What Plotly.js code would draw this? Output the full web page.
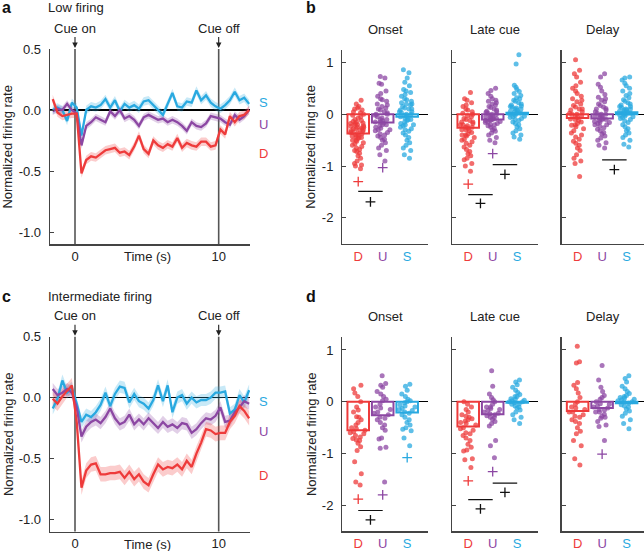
<!DOCTYPE html>
<html><head><meta charset="utf-8">
<script src="https://cdn.plot.ly/plotly-3.0.1.min.js"></script>
<style>html,body{margin:0;padding:0;background:#fff}#chart{width:644px;height:551px}</style>
</head><body><div id="chart"></div>
<script>
// ---------- time courses (panels a, c) ----------
const time = [-1.55,-1.22,-0.88,-0.55,-0.22,0.12,0.45,0.78,1.12,1.45,1.78,2.12,2.45,2.78,3.12,3.45,3.78,4.12,4.45,4.78,5.12,5.45,5.78,6.12,6.45,6.78,7.12,7.45,7.78,8.12,8.45,8.78,9.12,9.45,9.78,10.12,10.45,10.78,11.12,11.45,11.78,12.12];
const lowS = [0.0,0.02,0.0,-0.09,0.06,0.02,-0.21,0.0,0.03,0.02,0.04,0.09,0.02,0.08,-0.01,0.05,0.02,0.04,0.01,0.07,0.08,0.04,0.0,-0.04,0.05,0.14,0.03,0.02,0.07,0.06,0.16,0.08,0.12,0.06,0.03,0.01,0.04,0.08,0.15,0.08,0.1,0.05];
const lowU = [-0.01,0.01,0.0,0.05,0.0,-0.03,-0.29,-0.13,-0.1,-0.06,-0.08,-0.1,-0.01,-0.05,0.0,-0.07,-0.05,-0.08,-0.13,-0.06,-0.04,-0.06,-0.08,-0.07,-0.1,-0.08,-0.1,-0.13,-0.17,-0.1,-0.13,-0.14,-0.11,-0.05,-0.06,-0.07,-0.1,-0.12,-0.04,-0.08,-0.05,0.0];
const lowD = [0.09,-0.02,-0.05,-0.04,-0.03,-0.03,-0.52,-0.41,-0.38,-0.39,-0.36,-0.33,-0.32,-0.31,-0.35,-0.34,-0.37,-0.3,-0.21,-0.32,-0.36,-0.25,-0.29,-0.31,-0.28,-0.3,-0.23,-0.31,-0.27,-0.29,-0.3,-0.26,-0.26,-0.3,-0.29,-0.16,-0.2,-0.05,-0.1,-0.05,-0.04,0.0];
const intS = [-0.09,-0.01,0.14,0.04,0.08,-0.05,-0.2,-0.14,-0.16,-0.12,-0.06,0.04,-0.07,0.03,0.09,0.08,-0.04,0.03,-0.03,-0.05,-0.09,-0.02,0.1,-0.03,0.1,-0.12,0.0,0.02,-0.05,0.0,-0.04,-0.02,-0.02,0.0,0.04,0.04,0.05,-0.13,-0.1,0.02,-0.04,0.06];
const intU = [0.07,0.02,0.04,0.07,0.04,-0.08,-0.32,-0.24,-0.2,-0.18,-0.21,-0.16,-0.09,-0.17,-0.22,-0.2,-0.14,-0.22,-0.18,-0.22,-0.17,-0.21,-0.25,-0.2,-0.24,-0.22,-0.25,-0.21,-0.22,-0.29,-0.26,-0.21,-0.17,-0.18,-0.15,-0.08,-0.2,-0.19,-0.12,-0.08,-0.03,-0.05];
const intD = [-0.01,-0.05,0.01,0.06,0.1,-0.2,-0.74,-0.6,-0.55,-0.54,-0.63,-0.63,-0.62,-0.62,-0.61,-0.66,-0.61,-0.67,-0.63,-0.69,-0.72,-0.63,-0.55,-0.59,-0.57,-0.58,-0.55,-0.59,-0.52,-0.57,-0.46,-0.37,-0.26,-0.27,-0.3,-0.29,-0.29,-0.2,-0.15,-0.07,-0.11,-0.17];
const lowSem = [0.035, 0.03, 0.035];   // S, U, D
const intSem = [0.05, 0.05, 0.06];     // S, U, D
const seriesNames = ['S','U','D'];
const cueTimes = [0, 10];
const cueLabels = ['Cue on', 'Cue off'];
const timeTicks = [0, 10];
const rateTicks = [0.5, 0, -0.5, -1];
const rateTickText = ['0.5', '0.0', '-0.5', '-1.0'];

// ---------- epoch scatter (panels b, d) ----------
const groups = ['D','U','S'];
const periods = ['Onset','Late cue','Delay'];
const epochTicks = [1, 0, -1, -2];
const epochTickText = ['1', '0', '-1', '-2'];

const bOnsetD = [0.27,0.2,0.15,0.12,0.1,0.08,0.05,0.03,0.0,-0.02,-0.05,-0.07,-0.1,-0.12,-0.14,-0.15,-0.17,-0.18,-0.2,-0.2,-0.22,-0.23,-0.25,-0.26,-0.28,-0.3,-0.3,-0.32,-0.33,-0.35,-0.36,-0.38,-0.4,-0.4,-0.42,-0.44,-0.45,-0.47,-0.5,-0.5,-0.52,-0.55,-0.57,-0.6,-0.62,-0.65,-0.68,-0.7,-0.72,-0.75,-0.8,-0.85,-0.9,-0.95,-0.98,-1.0,-1.05,-0.25,-0.18,-0.35,-0.45,-0.28];
const bOnsetU = [0.73,0.7,0.6,0.58,0.45,0.4,0.35,0.3,0.28,0.25,0.2,0.18,0.15,0.12,0.1,0.08,0.05,0.03,0.0,-0.02,-0.05,-0.07,-0.1,-0.12,-0.15,-0.17,-0.2,-0.22,-0.25,-0.27,-0.3,-0.32,-0.35,-0.38,-0.4,-0.42,-0.45,-0.48,-0.5,-0.55,-0.6,-0.65,-0.7,-0.78,-0.9,-0.2,-0.1,-0.3,0.0,-0.15];
const bOnsetS = [0.86,0.8,0.7,0.62,0.55,0.48,0.45,0.42,0.38,0.35,0.3,0.28,0.25,0.22,0.2,0.18,0.15,0.12,0.1,0.08,0.05,0.03,0.0,-0.02,-0.05,-0.07,-0.1,-0.12,-0.15,-0.18,-0.2,-0.22,-0.25,-0.28,-0.3,-0.33,-0.36,-0.4,-0.45,-0.5,-0.55,-0.6,-0.65,-0.7,-0.78,-0.85,0.1,0.0,-0.1,0.2,-0.2,0.05,-0.05];
const bLateD = [0.42,0.3,0.27,0.22,0.18,0.15,0.1,0.08,0.05,0.02,0.0,-0.03,-0.05,-0.08,-0.1,-0.12,-0.15,-0.18,-0.2,-0.22,-0.25,-0.27,-0.3,-0.32,-0.35,-0.38,-0.4,-0.42,-0.45,-0.48,-0.5,-0.53,-0.56,-0.6,-0.63,-0.68,-0.72,-0.76,-0.8,-0.85,-0.88,-0.95,-1.0,-1.1,-0.2,-0.3,-0.15,-0.4,-0.25];
const bLateU = [0.5,0.46,0.4,0.35,0.3,0.27,0.25,0.22,0.2,0.18,0.15,0.13,0.1,0.08,0.06,0.04,0.02,0.0,-0.02,-0.04,-0.06,-0.08,-0.1,-0.12,-0.14,-0.16,-0.18,-0.2,-0.22,-0.25,-0.28,-0.3,-0.33,-0.36,-0.4,-0.45,-0.5,-0.55,-0.1,-0.05,-0.15,0.0,-0.2,0.05,-0.08,-0.12];
const bLateS = [1.15,0.97,0.56,0.52,0.48,0.44,0.4,0.36,0.32,0.3,0.27,0.25,0.22,0.2,0.18,0.16,0.14,0.12,0.1,0.08,0.06,0.04,0.02,0.0,-0.02,-0.04,-0.06,-0.08,-0.1,-0.12,-0.15,-0.18,-0.2,-0.24,-0.28,-0.32,-0.36,-0.4,-0.44,-0.48,0.05,0.0,0.1,-0.05,0.15,0.02];
const bDelayD = [1.05,0.85,0.78,0.72,0.62,0.55,0.5,0.45,0.4,0.35,0.3,0.27,0.24,0.2,0.17,0.14,0.1,0.08,0.05,0.02,0.0,-0.03,-0.06,-0.09,-0.12,-0.15,-0.18,-0.21,-0.24,-0.28,-0.32,-0.36,-0.4,-0.44,-0.48,-0.52,-0.56,-0.6,-0.65,-0.7,-0.78,-0.85,-0.9,-0.95,-1.2,0.0,-0.1,0.1,-0.2,-0.05];
const bDelayU = [0.78,0.72,0.58,0.52,0.45,0.38,0.33,0.3,0.27,0.24,0.2,0.17,0.14,0.11,0.08,0.05,0.02,0.0,-0.02,-0.04,-0.06,-0.08,-0.1,-0.12,-0.14,-0.16,-0.18,-0.2,-0.23,-0.26,-0.29,-0.32,-0.35,-0.38,-0.42,-0.46,-0.5,-0.55,-0.6,-0.65,-0.05,-0.1,0.0,-0.15,-0.2,0.1];
const bDelayS = [0.72,0.7,0.66,0.6,0.55,0.5,0.45,0.4,0.36,0.32,0.28,0.25,0.22,0.2,0.18,0.15,0.13,0.1,0.08,0.06,0.04,0.02,0.0,-0.02,-0.04,-0.06,-0.08,-0.1,-0.13,-0.16,-0.2,-0.24,-0.28,-0.32,-0.36,-0.4,-0.45,-0.5,-0.58,-0.63,0.05,0.1,0.0,0.15,-0.05,0.08];

const dOnsetD = [0.32,0.25,0.17,0.1,0.0,-0.1,-0.16,-0.29,-0.35,-0.45,-0.52,-0.58,-0.65,-0.68,-0.71,-0.74,-0.8,-0.87,-0.94,-1.16,-1.39,-1.55,-1.61,-0.4,-0.5,-0.6,-0.3,-0.55,-0.75,-0.2,-0.62];
const dOnsetU = [0.5,0.35,0.32,0.28,0.2,0.15,0.1,0.02,-0.05,-0.1,-0.15,-0.2,-0.25,-0.3,-0.35,-0.4,-0.45,-0.5,-0.55,-0.7,-0.72,-0.88,-0.9,-1.55,-0.22,-0.12,-0.32,0.05];
const dOnsetS = [0.34,0.3,0.22,0.15,0.1,0.05,0.02,-0.02,-0.06,-0.1,-0.13,-0.17,-0.2,-0.25,-0.3,-0.35,-0.4,-0.45,-0.5,-0.53,-0.56,-0.7,-0.85,-0.08,-0.15,-0.22,0.0];
const dLateD = [0.0,-0.05,-0.1,-0.15,-0.2,-0.25,-0.3,-0.33,-0.37,-0.4,-0.45,-0.5,-0.55,-0.6,-0.65,-0.7,-0.75,-0.82,-0.88,-0.93,-0.95,-1.1,-1.12,-1.27,-0.42,-0.52,-0.35,-0.62,-0.28];
const dLateU = [0.6,0.3,0.15,0.08,0.04,0.0,-0.05,-0.1,-0.13,-0.17,-0.2,-0.23,-0.27,-0.3,-0.34,-0.38,-0.42,-0.47,-0.75,-0.85,-1.08,-0.22,-0.15,-0.25,-0.1,-0.3];
const dLateS = [0.42,0.38,0.33,0.28,0.22,0.18,0.14,0.1,0.06,0.03,0.0,-0.02,-0.05,-0.08,-0.12,-0.16,-0.2,-0.25,-0.3,-0.35,-0.42,0.0,-0.04,0.05,0.02,-0.1,0.1];
const dDelayD = [1.07,0.77,0.75,0.37,0.32,0.25,0.17,0.08,0.0,-0.05,-0.1,-0.15,-0.2,-0.25,-0.3,-0.35,-0.42,-0.5,-0.57,-0.62,-0.75,-0.85,-1.1,-1.22,-0.2,-0.28,-0.12,-0.38];
const dDelayU = [0.7,0.42,0.28,0.2,0.12,0.05,0.0,-0.04,-0.08,-0.12,-0.16,-0.2,-0.24,-0.28,-0.32,-0.38,-0.45,-0.48,-0.75,-0.1,-0.15,-0.05,-0.2,0.08,-0.3];
const dDelayS = [0.5,0.45,0.38,0.3,0.25,0.2,0.16,0.12,0.1,0.07,0.05,0.02,0.0,-0.03,-0.06,-0.1,-0.14,-0.18,-0.22,-0.28,-0.35,-0.42,-0.52,0.04,0.0,0.08,-0.08];

const bMeans = [[-0.37,-0.16,-0.05],[-0.26,-0.1,0.03],[-0.07,-0.08,0.04]];
const dMeans = [[-0.55,-0.26,-0.21],[-0.48,-0.24,-0.02],[-0.18,-0.12,-0.03]];
const bOutlierGroup = [['D','U'],['D','U'],[]];
const bOutlierValue = [[-1.3,-1.03],[-1.35,-0.76],[]];
const dOutlierGroup = [['D','U','S'],['D','U'],['U']];
const dOutlierValue = [[-1.88,-1.8,-1.08],[-1.53,-1.35],[-1.01]];
// significance bars
const bSigPeriod = [0, 1, 1, 2];
const bSigFrom = ['D','D','U','U'];
const bSigTo = ['U','U','S','S'];
const bSigBar = [-1.49,-1.55,-0.97,-0.88];
const bSigMark = [-1.69,-1.72,-1.16,-1.07];
const dSigPeriod = [0, 1, 1];
const dSigFrom = ['D','D','U'];
const dSigTo = ['U','U','S'];
const dSigBar = [-2.1,-1.89,-1.57];
const dSigMark = [-2.28,-2.07,-1.75];

// ---------- styling ----------
const W = 644, H = 551;
const FONT = 'Liberation Sans, Arial, Helvetica, sans-serif';
const TXT = '#222';
const AX = '#444';
const COL = {D:'#EE3B3B', U:'#8C47A3', S:'#29A9E0'};
const BAND = {D:'rgba(238,59,59,0.26)', U:'rgba(140,71,163,0.26)', S:'rgba(41,169,224,0.26)'};
const DOT = {D:'rgba(238,59,59,0.75)', U:'rgba(140,71,163,0.75)', S:'rgba(41,169,224,0.75)'};
const fx = p => p / W;
const fy = p => 1 - p / H;
const gpos = g => groups.indexOf(g) + 1;

const traces = [];
const annotations = [];
const shapes = [];
const layout = {
  width: W, height: H, margin: {l:0, r:0, t:0, b:0},
  paper_bgcolor: '#fff', plot_bgcolor: 'rgba(0,0,0,0)',
  showlegend: false, font: {family: FONT, size: 13, color: TXT},
  boxmode: 'overlay', barmode: 'overlay',
};
function note(o) {
  annotations.push(Object.assign({xref: 'paper', yref: 'paper', showarrow: false,
    xanchor: 'center', yanchor: 'middle', font: {size: 13, color: TXT}}, o));
}

// ----- line panels -----
function linePanel(ax, ySpan, series, sems, labelY) {
  const xk = ax === 1 ? 'xaxis' : 'xaxis' + ax;
  const yk = ax === 1 ? 'yaxis' : 'yaxis' + ax;
  const xr = ax === 1 ? 'x' : 'x' + ax;
  const yr = ax === 1 ? 'y' : 'y' + ax;
  layout[xk] = {domain: [fx(50), fx(250)], range: [-1.74, 12.18], anchor: yr,
    showline: true, linecolor: AX, linewidth: 1.3, ticks: '', tickvals: timeTicks,
    ticktext: timeTicks.map(String), showgrid: false, zeroline: false,
    tickfont: {size: 13, color: TXT}, ticklabelstandoff: 0};
  layout[yk] = {domain: [fy(ySpan[1]), fy(ySpan[0])], range: [-1.1, 0.5], anchor: xr,
    showline: true, linecolor: AX, linewidth: 1.3, ticks: 'inside', ticklen: 4, tickcolor: AX,
    tickvals: rateTicks, ticktext: rateTickText, showgrid: false,
    zeroline: true, zerolinecolor: '#000', zerolinewidth: 1.2,
    tickfont: {size: 13, color: TXT}, ticklabelstandoff: 5};
  seriesNames.forEach((nm, i) => {
    const v = series[i], s = sems[i];
    const up = v.map(q => q + s), lo = v.map(q => q - s);
    traces.push({type: 'scatter', mode: 'lines', x: time.concat(time.slice().reverse()),
      y: up.concat(lo.reverse()), fill: 'toself', fillcolor: BAND[nm],
      line: {width: 0}, xaxis: xr, yaxis: yr, hoverinfo: 'skip'});
  });
  seriesNames.forEach((nm, i) => {
    traces.push({type: 'scatter', mode: 'lines', x: time, y: series[i],
      line: {color: COL[nm], width: 2.3}, xaxis: xr, yaxis: yr, name: nm});
  });
  cueTimes.forEach((t, i) => {
    shapes.push({type: 'line', xref: xr, yref: yr + ' domain', x0: t, x1: t, y0: 0, y1: 1,
      line: {color: '#555', width: 1.6}, layer: 'below'});
    annotations.push({xref: xr, yref: yr + ' domain', x: t, y: 1, yshift: 1, text: cueLabels[i],
      showarrow: true, ax: 0, ay: -20, arrowhead: 2, arrowsize: 1, arrowwidth: 1.1,
      arrowcolor: '#222', standoff: 0, font: {size: 13, color: TXT}});
  });
  seriesNames.forEach((nm, i) => {
    note({x: fx(263), y: fy(labelY[i]), text: nm, font: {size: 13, color: COL[nm]}});
  });
  note({x: fx(147), y: fy(ySpan[1] + 12.5), text: 'Time (s)'});
  note({x: fx(8), y: fy((ySpan[0] + ySpan[1]) / 2), text: 'Normalized firing rate', textangle: -90});
}

linePanel(1, [49, 244.2], [lowS, lowU, lowD], lowSem, [103, 124, 153]);
linePanel(2, [336.7, 531.5], [intS, intU, intD], intSem, [401.7, 431, 475.7]);

// ----- epoch panels -----
const epochXDom = [[342.3, 428], [452.3, 538], [561.7, 644]];
const epochXRange = [[0.35, 3.85], [0.35, 3.85], [0.35, 3.71]];
const tickHtml = groups.map(g => '<span style="color:' + COL[g] + '">' + g + '</span>');

function epochPanel(axStart, ySpan, data, means, outG, outV, sigP, sigF, sigT, sigB, sigM, titleY) {
  periods.forEach((p, k) => {
    const n = axStart + k;
    const xr = 'x' + n, yr = 'y' + n;
    layout['xaxis' + n] = {domain: [fx(epochXDom[k][0]), fx(epochXDom[k][1])], range: epochXRange[k],
      anchor: yr, showline: true, linecolor: AX, linewidth: 1.3, ticks: '', tickvals: [1, 2, 3],
      ticktext: tickHtml, showgrid: false, zeroline: false, tickfont: {size: 13}, ticklabelstandoff: 0};
    layout['yaxis' + n] = {domain: [fy(ySpan[1]), fy(ySpan[0])], range: [-2.5, 1.25], anchor: xr,
      showline: true, linecolor: AX, linewidth: 1.3, ticks: 'inside', ticklen: 4, tickcolor: AX,
      tickvals: epochTicks, ticktext: epochTickText, showticklabels: k === 0, showgrid: false,
      zeroline: true, zerolinecolor: '#000', zerolinewidth: 1.2,
      tickfont: {size: 13, color: TXT}, ticklabelstandoff: 5};
    traces.push({type: 'bar', x: [1, 2, 3], y: means[k], width: 0.88, xaxis: xr, yaxis: yr,
      marker: {color: 'rgba(0,0,0,0)', line: {color: groups.map(g => COL[g]), width: 2}}});
    groups.forEach((g, gi) => {
      const vals = data[k][gi];
      traces.push({type: 'box', x: vals.map(() => gi + 1), y: vals, xaxis: xr, yaxis: yr,
        boxpoints: 'all', jitter: 0.9, pointpos: 0, width: 0.8, whiskerwidth: 0,
        fillcolor: 'rgba(0,0,0,0)', line: {color: 'rgba(0,0,0,0)', width: 0},
        marker: {color: DOT[g], size: 5}, hoveron: 'points'});
    });
    if (outG[k].length) {
      traces.push({type: 'scatter', mode: 'markers', x: outG[k].map(gpos), y: outV[k],
        xaxis: xr, yaxis: yr, marker: {symbol: 'cross-thin-open', size: 7,
        color: outG[k].map(g => COL[g]), line: {width: 1.3, color: outG[k].map(g => COL[g])}}});
    }
    annotations.push({xref: xr + ' domain', yref: 'paper', x: 0.5, y: fy(titleY), text: p,
      showarrow: false, xanchor: 'center', yanchor: 'middle', font: {size: 13, color: TXT}});
  });
  sigP.forEach((k, i) => {
    const n = axStart + k;
    const a = gpos(sigF[i]), b = gpos(sigT[i]);
    traces.push({type: 'scatter', mode: 'lines', x: [a, b], y: [sigB[i], sigB[i]],
      xaxis: 'x' + n, yaxis: 'y' + n, line: {color: '#111', width: 1.2}});
    traces.push({type: 'scatter', mode: 'markers', x: [(a + b) / 2], y: [sigM[i]],
      xaxis: 'x' + n, yaxis: 'y' + n, marker: {symbol: 'cross-thin-open', size: 7,
      color: '#111', line: {width: 1.3, color: '#111'}}});
  });
  note({x: fx(311), y: fy((ySpan[0] + ySpan[1]) / 2), text: 'Normalized firing rate', textangle: -90});
}

epochPanel(3, [49.5, 243.8],
  [[bOnsetD, bOnsetU, bOnsetS], [bLateD, bLateU, bLateS], [bDelayD, bDelayU, bDelayS]],
  bMeans, bOutlierGroup, bOutlierValue, bSigPeriod, bSigFrom, bSigTo, bSigBar, bSigMark, 29.3);
epochPanel(6, [337, 531.2],
  [[dOnsetD, dOnsetU, dOnsetS], [dLateD, dLateU, dLateS], [dDelayD, dDelayU, dDelayS]],
  dMeans, dOutlierGroup, dOutlierValue, dSigPeriod, dSigFrom, dSigTo, dSigBar, dSigMark, 316.7);

// panel letters and headings
[['a', 0, 8], ['b', 304, 8], ['c', 0, 296.7], ['d', 304, 296.7]].forEach(([t, x, y]) => {
  note({x: fx(x), y: fy(y), xanchor: 'left', text: '<b>' + t + '</b>', font: {size: 16, color: '#111'}});
});
note({x: fx(46), y: fy(8), xanchor: 'left', text: 'Low firing'});
note({x: fx(46), y: fy(296.7), xanchor: 'left', text: 'Intermediate firing'});

layout.annotations = annotations;
layout.shapes = shapes;
traces.forEach(t => { if (t.showlegend === undefined) t.showlegend = false; });
Plotly.newPlot('chart', traces, layout, {staticPlot: true});
</script>
</body></html>
